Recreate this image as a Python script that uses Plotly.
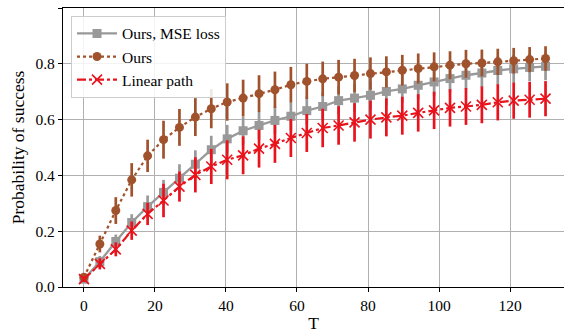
import plotly.graph_objects as go

T = [0, 4.48, 8.97, 13.45, 17.93, 22.41, 26.90, 31.38, 35.86, 40.34,
     44.83, 49.31, 53.79, 58.28, 62.76, 67.24, 71.72, 76.21, 80.69, 85.17,
     89.66, 94.14, 98.62, 103.10, 107.59, 112.07, 116.55, 121.03, 125.52, 130.0]

mse_mean = [0.028, 0.091, 0.163, 0.231, 0.288, 0.339, 0.390, 0.440, 0.492, 0.531,
            0.560, 0.579, 0.597, 0.612, 0.632, 0.647, 0.668, 0.677, 0.687, 0.701,
            0.710, 0.723, 0.735, 0.747, 0.759, 0.767, 0.776, 0.782, 0.787, 0.791]
mse_err = [0.01, 0.02, 0.025, 0.03, 0.04, 0.045, 0.05, 0.05, 0.05, 0.05,
           0.05, 0.05, 0.05, 0.05, 0.05, 0.05, 0.05, 0.05, 0.05, 0.05,
           0.05, 0.05, 0.05, 0.05, 0.05, 0.05, 0.05, 0.05, 0.05, 0.05]

ours_mean = [0.035, 0.154, 0.274, 0.384, 0.470, 0.528, 0.572, 0.609, 0.639, 0.663,
             0.677, 0.693, 0.707, 0.725, 0.737, 0.746, 0.752, 0.758, 0.765, 0.771,
             0.777, 0.783, 0.789, 0.795, 0.800, 0.803, 0.807, 0.811, 0.815, 0.819]
ours_err = [0.01, 0.03, 0.048, 0.06, 0.058, 0.068, 0.066, 0.068, 0.07, 0.067,
            0.066, 0.066, 0.065, 0.064, 0.063, 0.062, 0.062, 0.06, 0.058, 0.056,
            0.055, 0.054, 0.052, 0.05, 0.05, 0.048, 0.047, 0.046, 0.045, 0.044]

lin_mean = [0.028, 0.083, 0.135, 0.202, 0.262, 0.310, 0.360, 0.402, 0.432, 0.456,
            0.472, 0.496, 0.513, 0.534, 0.552, 0.570, 0.579, 0.590, 0.600, 0.608,
            0.614, 0.624, 0.633, 0.642, 0.647, 0.653, 0.662, 0.668, 0.671, 0.675]
lin_err = [0.01, 0.02, 0.025, 0.033, 0.04, 0.06, 0.054, 0.063, 0.063, 0.07,
           0.068, 0.068, 0.068, 0.068, 0.068, 0.069, 0.069, 0.069, 0.068, 0.068,
           0.068, 0.067, 0.067, 0.067, 0.066, 0.066, 0.065, 0.065, 0.064, 0.063]

GRAY = "#999999"
BROWN = "#a0522d"
RED = "#e8131c"

fig = go.Figure()
fig.add_trace(go.Scatter(
    x=T, y=mse_mean, name="Ours, MSE loss", mode="lines+markers",
    line=dict(color=GRAY, width=2.3, dash="solid"),
    marker=dict(symbol="square", size=9, color=GRAY),
    error_y=dict(type="data", array=mse_err, color=GRAY, thickness=2.7, width=0),
))
fig.add_trace(go.Scatter(
    x=T, y=ours_mean, name="Ours", mode="lines+markers",
    line=dict(color=BROWN, width=2.2, dash="dot"),
    marker=dict(symbol="circle", size=9, color=BROWN),
    error_y=dict(type="data", array=ours_err, color=BROWN, thickness=2.7, width=0),
))
fig.add_trace(go.Scatter(
    x=T, y=lin_mean, name="Linear path", mode="lines+markers",
    line=dict(color=RED, width=2.2, dash="dashdot"),
    marker=dict(symbol="x-thin-open", size=10, color=RED, line=dict(color=RED, width=1.6)),
    error_y=dict(type="data", array=lin_err, color=RED, thickness=2.7, width=0),
))

font_family = "Liberation Serif, Times New Roman, serif"
fig.update_layout(
    width=564, height=334,
    margin=dict(l=63, r=0, t=8, b=47),
    paper_bgcolor="white", plot_bgcolor="white",
    font=dict(family=font_family, size=15.5, color="black"),
    showlegend=True,
    legend=dict(x=0.016, y=0.972, xanchor="left", yanchor="top",
                bgcolor="rgba(255,255,255,0.85)", bordercolor="#cccccc", borderwidth=1,
                font=dict(family=font_family, size=15.5), tracegroupgap=0,
                itemwidth=40),
)
fig.update_xaxes(
    range=[-5.9, 135.2], tickvals=[0, 20, 40, 60, 80, 100, 120],
    showgrid=True, gridcolor="#b0b0b0", gridwidth=1,
    showline=True, linecolor="black", linewidth=1.2, mirror=True,
    ticks="outside", ticklen=4, tickcolor="black",
    zeroline=False,
    title=dict(text="T", font=dict(size=17.5), standoff=4),
)
fig.update_yaxes(
    range=[0, 1.0], tickvals=[0, 0.2, 0.4, 0.6, 0.8, 1.0], tickformat=".1f",
    showgrid=True, gridcolor="#b0b0b0", gridwidth=1,
    showline=True, linecolor="black", linewidth=1.2,
    ticks="outside", ticklen=4, tickcolor="black",
    zeroline=False,
    title=dict(text="Probability of success", font=dict(size=17.5), standoff=6),
)

fig.write_html("out.html")
